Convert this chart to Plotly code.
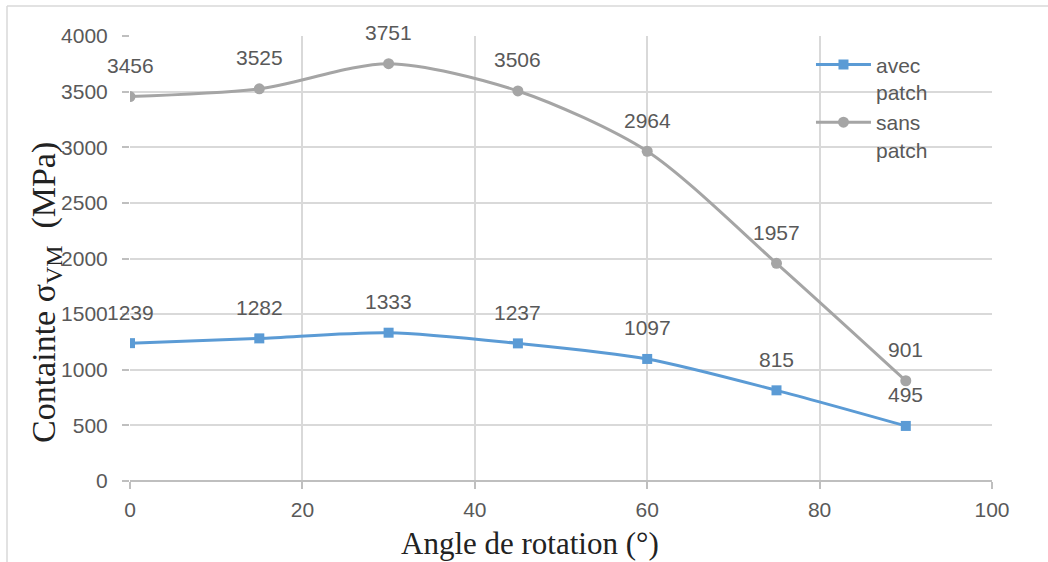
import plotly.graph_objects as go

angles = [0, 15, 30, 45, 60, 75, 90]
avec_patch = [1239, 1282, 1333, 1237, 1097, 815, 495]
sans_patch = [3456, 3525, 3751, 3506, 2964, 1957, 901]
series_names = ["avec<br>patch", "sans<br>patch"]
x_ticks = [0, 20, 40, 60, 80, 100]
y_ticks = [0, 500, 1000, 1500, 2000, 2500, 3000, 3500, 4000]
x_title = "Angle de rotation (°)"
y_title = "Containte σ<sub>VM</sub>  (MPa)"

BLUE = "#5b9bd5"
GRAY = "#a5a5a5"
TICK_FONT = dict(family="Liberation Sans, Arial", size=21, color="#595959")
TITLE_FONT = "Liberation Serif, Times New Roman"

W, H = 1048, 562
L, R, T, B = 130, 56, 36, 81
PW, PH = W - L - R, H - T - B


def px_x(p):
    return (p - L) / PW


def px_y(p):
    return (T + PH - p) / PH


fig = go.Figure()
fig.add_trace(go.Scatter(
    x=angles, y=avec_patch, name=series_names[0], mode="lines+markers",
    line=dict(color=BLUE, width=3, shape="spline", smoothing=0.8),
    marker=dict(symbol="square", size=10, color=BLUE),
))
fig.add_trace(go.Scatter(
    x=angles, y=sans_patch, name=series_names[1], mode="lines+markers",
    line=dict(color=GRAY, width=3, shape="spline", smoothing=0.8),
    marker=dict(symbol="circle", size=11, color=GRAY),
))

for series in (avec_patch, sans_patch):
    for xv, yv in zip(angles, series):
        fig.add_annotation(x=xv, y=yv, text=str(yv), showarrow=False,
                           yshift=31, font=TICK_FONT)

# axis titles
fig.add_annotation(xref="paper", yref="paper", x=px_x(530), y=px_y(543),
                   text=x_title, showarrow=False, xanchor="center", yanchor="middle",
                   font=dict(family=TITLE_FONT, size=31, color="#222222"))
fig.add_annotation(xref="paper", yref="paper", x=px_x(46), y=px_y(293),
                   text=y_title, showarrow=False, textangle=-90,
                   xanchor="center", yanchor="middle",
                   font=dict(family=TITLE_FONT, size=34, color="#222222"))

# outer chart frame (light gray)
fig.add_shape(type="line", xref="paper", yref="paper",
              x0=px_x(7), x1=px_x(1060), y0=px_y(6), y1=px_y(6),
              line=dict(color="#d9d9d9", width=1.5))
fig.add_shape(type="line", xref="paper", yref="paper",
              x0=px_x(7), x1=px_x(7), y0=px_y(6), y1=px_y(570),
              line=dict(color="#d9d9d9", width=1.5))

fig.update_layout(
    width=W, height=H,
    margin=dict(l=L, r=R, t=T, b=B),
    plot_bgcolor="white", paper_bgcolor="white",
    showlegend=True,
    legend=dict(x=0.79, y=0.981, xanchor="left", yanchor="top",
                font=dict(family="Liberation Sans, Arial", size=21, color="#595959"),
                bgcolor="rgba(0,0,0,0)", valign="top", itemwidth=55,
                tracegroupgap=0),
)
fig.update_xaxes(
    range=[0, 100], tickvals=x_ticks, ticktext=[str(v) for v in x_ticks],
    showgrid=True, gridcolor="#d9d9d9", gridwidth=1.5,
    zeroline=False, showline=False,
    ticks="outside", ticklen=7, tickcolor="#bfbfbf", tickwidth=1.5,
    tickfont=TICK_FONT, ticklabelstandoff=3,
)
fig.update_yaxes(
    range=[0, 4000], tickvals=y_ticks, ticktext=[str(v) for v in y_ticks],
    showgrid=True, gridcolor="#d9d9d9", gridwidth=1.5,
    zeroline=True, zerolinecolor="#bfbfbf", zerolinewidth=2,
    showline=False,
    ticks="outside", ticklen=7, tickcolor="#bfbfbf", tickwidth=1.5,
    tickfont=TICK_FONT, ticklabelstandoff=10,
)

fig.write_html("out.html", config={"displayModeBar": False},
               post_script="document.body.style.margin='0';")
